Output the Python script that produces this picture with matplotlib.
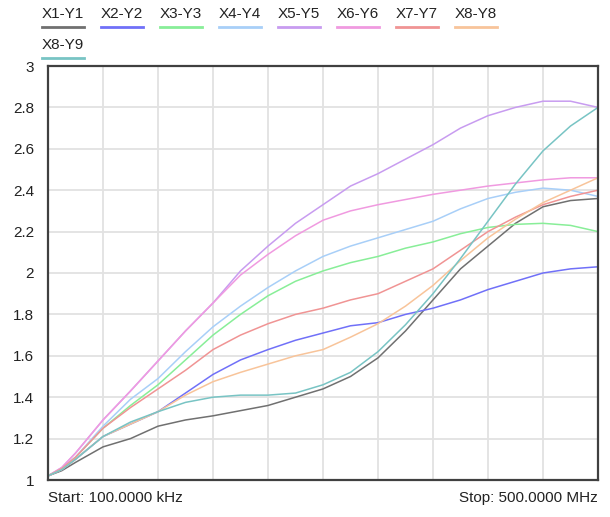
import numpy as np
import matplotlib
matplotlib.use('Agg')
import matplotlib.pyplot as plt
from matplotlib.lines import Line2D

plt.rcParams['font.family'] = ['Liberation Sans', 'DejaVu Sans']

# sweep position in grid divisions (0 = start, 10 = stop)
x = [0, 0.25] + list(np.arange(0.5, 10.5, 0.5))

y1 = [1.02, 1.045, 1.085, 1.16, 1.20, 1.26, 1.29, 1.31, 1.335, 1.36, 1.40, 1.44, 1.50, 1.59, 1.72, 1.87, 2.02, 2.13, 2.24, 2.32, 2.35, 2.36]
y2 = [1.02, 1.05, 1.10, 1.21, 1.27, 1.33, 1.42, 1.51, 1.58, 1.63, 1.675, 1.71, 1.745, 1.76, 1.80, 1.83, 1.87, 1.92, 1.96, 2.00, 2.02, 2.03]
y3 = [1.02, 1.055, 1.11, 1.25, 1.36, 1.46, 1.58, 1.70, 1.80, 1.89, 1.96, 2.01, 2.05, 2.08, 2.12, 2.15, 2.19, 2.22, 2.235, 2.24, 2.23, 2.20]
y4 = [1.02, 1.055, 1.11, 1.26, 1.39, 1.49, 1.62, 1.74, 1.84, 1.93, 2.01, 2.08, 2.13, 2.17, 2.21, 2.25, 2.31, 2.36, 2.39, 2.41, 2.40, 2.37]
y5 = [1.02, 1.06, 1.13, 1.29, 1.43, 1.575, 1.72, 1.855, 2.01, 2.13, 2.24, 2.33, 2.42, 2.48, 2.55, 2.62, 2.70, 2.76, 2.80, 2.83, 2.83, 2.80]
y6 = [1.02, 1.06, 1.13, 1.29, 1.43, 1.575, 1.72, 1.855, 1.99, 2.09, 2.18, 2.255, 2.30, 2.33, 2.355, 2.38, 2.40, 2.42, 2.435, 2.45, 2.46, 2.46]
y7 = [1.02, 1.055, 1.11, 1.25, 1.35, 1.44, 1.53, 1.63, 1.70, 1.755, 1.80, 1.83, 1.87, 1.90, 1.96, 2.02, 2.11, 2.20, 2.27, 2.33, 2.37, 2.40]
y8 = [1.02, 1.05, 1.10, 1.21, 1.27, 1.33, 1.41, 1.475, 1.52, 1.56, 1.60, 1.63, 1.69, 1.755, 1.84, 1.94, 2.06, 2.17, 2.26, 2.34, 2.40, 2.46]
y9 = [1.02, 1.05, 1.10, 1.21, 1.28, 1.33, 1.375, 1.40, 1.41, 1.41, 1.42, 1.46, 1.52, 1.62, 1.75, 1.90, 2.07, 2.25, 2.43, 2.59, 2.71, 2.80]

labels = ['X1-Y1', 'X2-Y2', 'X3-Y3', 'X4-Y4', 'X5-Y5', 'X6-Y6', 'X7-Y7', 'X8-Y8', 'X8-Y9']
colors = ['#707070', '#7070f8', '#88ee98', '#a8cff8', '#c89cf0', '#f09ae0', '#f09494', '#f8c49a', '#78c4c4']
series = [y1, y2, y3, y4, y5, y6, y7, y8, y9]

yticks = [1, 1.2, 1.4, 1.6, 1.8, 2, 2.2, 2.4, 2.6, 2.8, 3]
ytick_labels = ['1', '1.2', '1.4', '1.6', '1.8', '2', '2.2', '2.4', '2.6', '2.8', '3']

W, H = 610, 517
fig = plt.figure(figsize=(W / 100, H / 100), dpi=100)
ax = fig.add_axes([48 / W, (H - 480) / H, 550 / W, 414 / H])

for ys, c in zip(series, colors):
    ax.plot(x, ys, color=c, lw=1.1)

ax.set_xlim(0, 10)
ax.set_ylim(1, 3)
ax.set_xticks(np.arange(0, 11, 1))
ax.set_xticklabels([])
ax.set_yticks(yticks)
ax.set_yticklabels(ytick_labels, fontsize=11, color='#222222')
ax.tick_params(length=0, pad=10)
ax.grid(True, color='#e2e2e2', lw=1.3)
ax.set_axisbelow(True)
for s in ax.spines.values():
    s.set_color('#404040')
    s.set_linewidth(1.6)

# legend: text with a coloured underline, laid out like the analyser screen
for i, (lab, c) in enumerate(zip(labels, colors)):
    row, col = divmod(i, 8)
    px = 42 + col * 59
    py = 14 + row * 31
    fig.text(px / W, 1 - py / H, lab, fontsize=11, color='#222222', ha='left', va='center')
    ly = 1 - (py + 13) / H
    fig.add_artist(Line2D([px / W, (px + 42) / W], [ly, ly], color=c, lw=2))

fig.text(48 / W, 1 - 498 / H, 'Start: 100.0000 kHz', fontsize=11, color='#222222', ha='left', va='center')
fig.text(598 / W, 1 - 498 / H, 'Stop: 500.0000 MHz', fontsize=11, color='#222222', ha='right', va='center')

fig.savefig('out.png', dpi=100)
